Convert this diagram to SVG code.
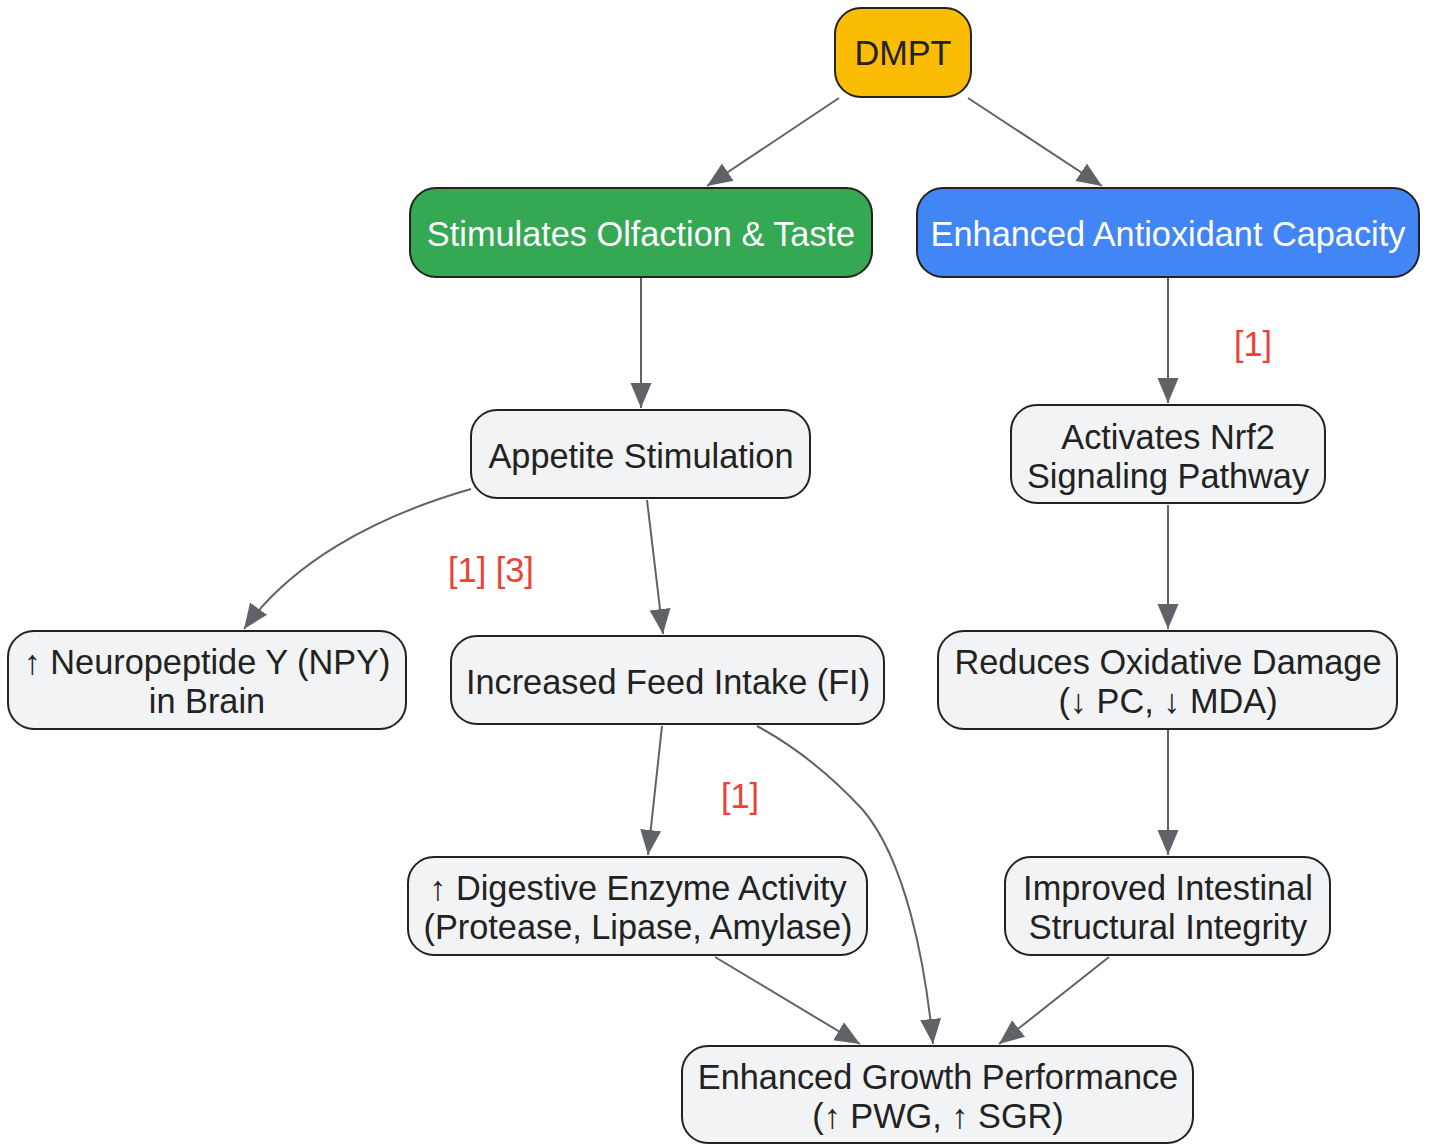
<svg xmlns="http://www.w3.org/2000/svg" width="1430" height="1145" viewBox="0 0 1430 1145">
<defs>
<marker id="arr" markerUnits="userSpaceOnUse" markerWidth="28" markerHeight="24" viewBox="0 0 28 24" refX="25" refY="12" orient="auto">
<path d="M0,1.5 L25,12 L0,22.5 Z" fill="#5F6368"/>
</marker>
<style>
.n rect{stroke:#222;stroke-width:2}
.g rect{fill:#F1F3F4}
text{font-family:"Liberation Sans",Arial,sans-serif;font-size:34.3px;text-anchor:middle;fill:#222}
.w{fill:#fff}
.lbl{fill:#EA4335}
.e path{fill:none;stroke:#5F6368;stroke-width:2;marker-end:url(#arr)}
</style>
</defs>
<rect width="1430" height="1145" fill="#fff"/>
<g class="e" id="edges">
<path d="M839,98 L707,186"/>
<path d="M968,98 L1102,186"/>
<path d="M641,278 L641,408"/>
<path d="M1168,278 L1168,403"/>
<path d="M471,489 C370,518 290,565 244,629"/>
<path d="M647,500 L663,634"/>
<path d="M662,726 L648,855"/>
<path d="M757,726 C805,752 838,783 863,810 C905,860 925,960 933,1044"/>
<path d="M715,957 L860,1044"/>
<path d="M1168,505 L1168,629"/>
<path d="M1168,730 L1168,855"/>
<path d="M1109,957 L999,1044"/>
</g>
<g id="labels">
<text class="lbl" x="1253" y="356">[1]</text>
<text class="lbl" x="491" y="582">[1] [3]</text>
<text class="lbl" x="740" y="808">[1]</text>
</g>
<g class="n" id="dmpt"><rect x="835" y="8" width="136" height="89" rx="26" fill="#FBBC04"/><text x="903" y="65">DMPT</text></g>
<g class="n" id="olf"><rect x="410" y="188" width="462" height="89" rx="26" fill="#34A853"/><text class="w" x="641" y="246">Stimulates Olfaction &amp; Taste</text></g>
<g class="n" id="antiox"><rect x="917" y="188" width="502" height="89" rx="26" fill="#4285F4"/><text class="w" x="1168" y="246">Enhanced Antioxidant Capacity</text></g>
<g class="n g" id="appetite"><rect x="471" y="410" width="339" height="88" rx="26"/><text x="641" y="468">Appetite Stimulation</text></g>
<g class="n g" id="nrf2"><rect x="1011" y="405" width="314" height="98" rx="26"/><text x="1168" y="449">Activates Nrf2</text><text x="1168" y="488">Signaling Pathway</text></g>
<g class="n g" id="npy"><rect x="8" y="631" width="398" height="98" rx="26"/><text x="207" y="674">↑ Neuropeptide Y (NPY)</text><text x="207" y="713">in Brain</text></g>
<g class="n g" id="fi"><rect x="451" y="636" width="433" height="88" rx="26"/><text x="668" y="694">Increased Feed Intake (FI)</text></g>
<g class="n g" id="oxd"><rect x="938" y="631" width="459" height="98" rx="26"/><text x="1168" y="674">Reduces Oxidative Damage</text><text x="1168" y="713">(↓ PC, ↓ MDA)</text></g>
<g class="n g" id="enz"><rect x="408" y="857" width="459" height="98" rx="26"/><text x="638" y="900">↑ Digestive Enzyme Activity</text><text x="638" y="939">(Protease, Lipase, Amylase)</text></g>
<g class="n g" id="intest"><rect x="1005" y="857" width="325" height="98" rx="26"/><text x="1168" y="900">Improved Intestinal</text><text x="1168" y="939">Structural Integrity</text></g>
<g class="n g" id="growth"><rect x="682" y="1046" width="511" height="97" rx="26"/><text x="938" y="1089">Enhanced Growth Performance</text><text x="938" y="1128">(↑ PWG, ↑ SGR)</text></g>
</svg>
